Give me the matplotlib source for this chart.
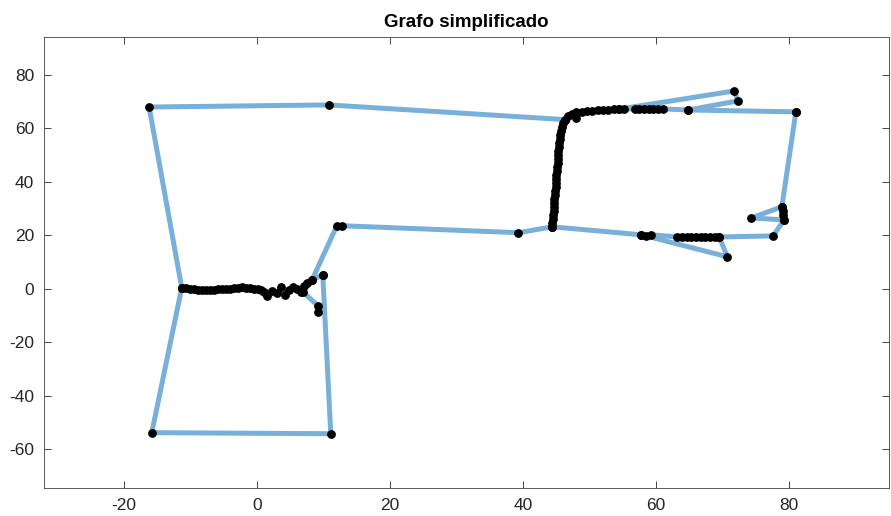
import numpy as np
import matplotlib
matplotlib.use("Agg")
import matplotlib.pyplot as plt

plt.rcParams['font.family'] = ['Liberation Sans', 'DejaVu Sans']
plt.rcParams['axes.unicode_minus'] = False

# graph paths (x, y)
loop_top = [(-11.3, 0.4), (-16.2, 68.0), (10.8, 68.8), (46.3, 63.3)]
box_low = [(-11.3, 0.4), (-15.8, -53.8), (11.1, -54.2), (9.9, 5.2)]
trail_left = [(-11.3, 0.4), (-10.7, 0.2), (-10.1, 0.0), (-9.5, -0.2), (-8.9, -0.3),
              (-8.3, -0.4), (-7.7, -0.4), (-7.1, -0.3), (-6.5, -0.3), (-5.9, -0.2),
              (-5.3, -0.1), (-4.7, 0.0), (-4.1, 0.1), (-3.5, 0.3), (-2.9, 0.4),
              (-2.3, 0.5), (-1.7, 0.4), (-1.1, 0.3), (-0.5, 0.1), (0.1, -0.2),
              (0.6, -0.6), (1.0, -1.2), (1.5, -2.6), (2.2, -0.8), (3.0, -1.6),
              (3.6, 0.5), (4.2, -2.2), (4.8, -0.5), (5.4, 0.8), (6.0, 0.0),
              (6.6, -1.2), (7.1, 1.0), (7.6, 2.2), (8.3, 3.4), (9.9, 5.2)]
spur_left = [(6.9, -1.1), (9.2, -6.4), (9.2, -8.6)]
link_mid = [(8.3, 3.4), (12.0, 23.5), (12.8, 23.6), (39.3, 21.0), (44.4, 23.2)]
trail_up = [(44.4, 23.2), (44.4, 24.5), (44.5, 26.0), (44.5, 27.5), (44.6, 29.0),
            (44.6, 30.5), (44.7, 32.0), (44.7, 33.5), (44.8, 35.0), (44.8, 36.5),
            (44.9, 38.0), (44.9, 39.5), (45.0, 41.0), (45.0, 42.5), (45.1, 44.0),
            (45.1, 45.5), (45.2, 47.0), (45.2, 48.5), (45.3, 50.0), (45.3, 51.5),
            (45.4, 53.0), (45.4, 54.5), (45.5, 56.0), (45.6, 57.5), (45.7, 59.0),
            (45.8, 60.5), (46.0, 62.0), (46.3, 63.3), (46.7, 64.5), (47.3, 65.4),
            (48.0, 66.0), (48.8, 66.3), (49.6, 66.5), (50.4, 66.7), (51.2, 66.8),
            (52.0, 66.9), (52.8, 67.0), (53.6, 67.1), (54.4, 67.2), (55.2, 67.3),
            (56.8, 67.3), (57.5, 67.3), (58.2, 67.3), (58.9, 67.3), (59.6, 67.3),
            (60.3, 67.3), (61.0, 67.3), (64.8, 66.9), (81.0, 66.2)]
stray_dot = [(48.0, 63.9)]
spur_top = [(54.4, 67.2), (71.7, 74.0), (72.3, 70.3), (64.8, 66.9)]
right_side = [(81.0, 66.2), (78.9, 30.7), (79.0, 29.0), (79.1, 27.5), (79.2, 25.8),
              (77.6, 19.8), (69.5, 19.4), (68.8, 19.4), (68.1, 19.4), (67.4, 19.4),
              (66.7, 19.4), (66.0, 19.4), (65.3, 19.4), (64.6, 19.4), (63.9, 19.4),
              (63.2, 19.4), (59.3, 20.2), (58.5, 19.7), (57.8, 20.2), (44.4, 23.2)]
tri_right = [(78.9, 30.7), (74.3, 26.5), (79.2, 25.8)]
spur_low = [(57.8, 20.2), (70.7, 12.0), (69.5, 19.4)]

paths = [loop_top, box_low, trail_left, spur_left, link_mid, trail_up,
         spur_top, right_side, tri_right, spur_low]

fig = plt.figure(figsize=(8.91, 5.16), dpi=100)
ax = fig.add_axes([44/891, 28/516, 845/891, 451/516])

for p in paths:
    xs, ys = zip(*p)
    ax.plot(xs, ys, color="#78b0da", linewidth=3.6, solid_capstyle="butt", zorder=1)

for p in paths + [stray_dot]:
    xs, ys = zip(*p)
    ax.plot(xs, ys, linestyle="none", marker="o", markersize=5.3, color="black", zorder=2)

ax.set_xlim(-32, 95)
ax.set_ylim(-74.5, 94.2)
ax.set_xticks([-20, 0, 20, 40, 60, 80])
ax.set_yticks([-60, -40, -20, 0, 20, 40, 60, 80])
ax.tick_params(direction="in", length=5, width=0.6, top=True, right=True,
               labelsize=12.5, colors="#262626", pad=7)
for s in ax.spines.values():
    s.set_color("#404040")
    s.set_linewidth(0.6)
ax.set_title("Grafo simplificado", fontsize=13.5, fontweight="bold", pad=7)

fig.savefig("out.png", dpi=100)
